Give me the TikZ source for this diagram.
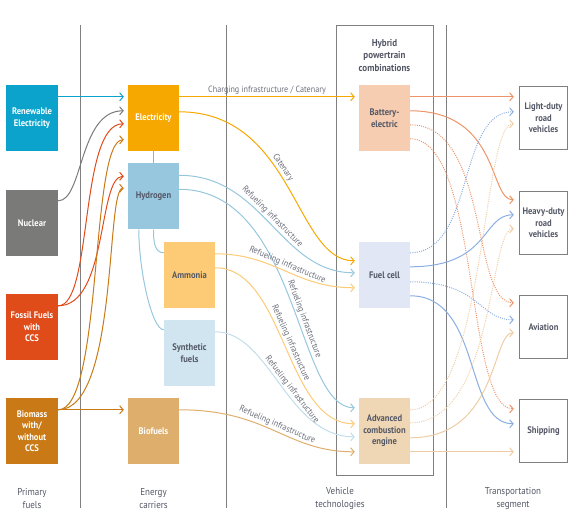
\documentclass[tikz,border=0pt]{standalone}
\usepackage{fontspec}
\setmainfont{PT Sans}[FakeStretch=0.9]
\usetikzlibrary{arrows.meta}

\definecolor{renew}{HTML}{0BA3CC}
\definecolor{nuclear}{HTML}{7A7A78}
\definecolor{fossil}{HTML}{E04B1A}
\definecolor{biomass}{HTML}{C97A16}
\definecolor{electric}{HTML}{F6A800}
\definecolor{hydrogen}{HTML}{96C7DF}
\definecolor{ammonia}{HTML}{FDCB76}
\definecolor{synfuel}{HTML}{D0E5EF}
\definecolor{biofuel}{HTML}{DEAE6D}
\definecolor{battery}{HTML}{F6CDB0}
\definecolor{fuelcell}{HTML}{E1E7F4}
\definecolor{combust}{HTML}{EFD6B4}
\definecolor{batline}{HTML}{EC9467}
\definecolor{fcline}{HTML}{8BAEE2}
\definecolor{aceline}{HTML}{EECDA4}
\definecolor{synline}{HTML}{C2DDEC}
\definecolor{darktext}{HTML}{545866}
\definecolor{labeltext}{HTML}{6A6E7A}
\definecolor{rule}{HTML}{7F7F7F}

\tikzset{
  tile/.style={minimum width=52pt, minimum height=66pt, inner sep=1pt, align=center,
    font=\fontsize{9.5}{11.5}\selectfont\bfseries, text=darktext},
  lighttile/.style={tile, text=white},
  segtile/.style={tile, minimum width=48pt, minimum height=63pt, draw=rule, line width=1.4pt, fill=white},
  flow/.style={line width=1pt, -{Straight Barb[length=3.5pt,width=8pt]}, out=0, in=180},
  flowlabel/.style={font=\fontsize{9}{10}\selectfont, text=labeltext, sloped, above, inner sep=1.5pt},
  dots/.style={dash pattern=on 1pt off 1.2pt},
  heading/.style={align=center, font=\fontsize{10}{13}\selectfont, text=darktext},
  divider/.style={draw=rule, line width=0.9pt}
}

\begin{document}
\begin{tikzpicture}[x=1pt,y=-1pt]
\useasboundingbox (0,0) rectangle (579,521);
\draw [divider] (80,25) -- (80,508);
\draw [divider] (226,25) -- (226,508);
\draw [divider] (446,25) -- (446,508);
\draw [divider] (336,25) rectangle (433,475);

% columns of boxes
\node [lighttile, fill=renew] (ren) at (32,118) {Renewable\\Electricity};
\node [lighttile, fill=nuclear] (nuc) at (32,223) {Nuclear};
\node [lighttile, fill=fossil] (fos) at (32,327) {Fossil Fuels\\with\\CCS};
\node [lighttile, fill=biomass] (bio) at (32,431) {Biomass\\with/\\without\\CCS};
\node [lighttile, fill=electric, minimum width=51pt] (elec) at (153.5,118) {Electricity};
\node [tile, fill=hydrogen, minimum width=51pt] (hyd) at (153.5,196.5) {Hydrogen};
\node [tile, fill=ammonia, minimum width=51pt] (amm) at (189.5,275) {Ammonia};
\node [tile, fill=synfuel, minimum width=51pt] (syn) at (189.5,353) {Synthetic\\fuels};
\node [lighttile, fill=biofuel, minimum width=51pt] (biof) at (153.5,431) {Biofuels};
\node [tile, fill=battery, minimum width=51pt] (bat) at (384.5,118) {Battery-\\electric};
\node [tile, fill=fuelcell, minimum width=51pt] (fc) at (384.5,275) {Fuel cell};
\node [tile, fill=combust, minimum width=51pt] (ace) at (384.5,431) {Advanced\\combustion\\engine};
\node [segtile] (ld) at (543.5,118) {Light-duty\\road\\vehicles};
\node [segtile] (hd) at (543.5,223) {Heavy-duty\\road\\vehicles};
\node [segtile] (av) at (543.5,327) {Aviation};
\node [segtile] (sh) at (543.5,431) {Shipping};

\node [heading, font=\fontsize{10}{12.5}\selectfont\bfseries] (hybrid) at (384.5,55.5) {Hybrid\\powertrain\\combinations};
\node [heading] (primary) at (32,498.5) {Primary\\fuels};
\node [heading] (carriers) at (153.5,498.5) {Energy\\carriers};
\node [heading] (vehtech) at (340,498.5) {Vehicle\\technologies};
\node [heading] (segment) at (513,498.5) {Transportation\\segment};

% primary fuels to carriers
\draw [flow, draw=renew] ([yshift=-12pt]ren.north east) -- ([xshift=-4pt,yshift=-12pt]elec.north west);
\draw [flow, draw=nuclear, out distance=25pt, in distance=45pt] ([yshift=-11pt]nuc.north east) to ([xshift=-4pt,yshift=-26pt]elec.north west);
\draw [flow, draw=fossil, out distance=35pt, in distance=45pt] ([yshift=-12pt]fos.north east) to ([xshift=-4pt,yshift=-39pt]elec.north west);
\draw [flow, draw=fossil, out distance=50pt, in distance=26pt] ([yshift=-12pt]fos.north east) to ([xshift=-4pt,yshift=-13pt]hyd.north west);
\draw [flow, draw=biomass, out distance=45pt, in distance=34pt] ([yshift=-12pt]bio.north east) to ([xshift=-4pt,yshift=-55pt]elec.north west);
\draw [flow, draw=biomass, out distance=60pt, in distance=18pt] ([yshift=-12pt]bio.north east) to ([xshift=-4pt,yshift=-25pt]hyd.north west);
\draw [flow, draw=biomass] ([yshift=-12pt]bio.north east) -- ([xshift=-4pt,yshift=-12pt]biof.north west);

% between carriers
\draw [draw=electric, line width=1pt] (elec.south) -- (hyd.north);
\draw [draw=hydrogen, line width=1pt, out=-90, in=180] (hyd.south) to ([yshift=-11pt]amm.north west);
\draw [draw=hydrogen, line width=1pt, out=-90, in=180, in distance=12pt] ([xshift=11pt]hyd.south west) to ([yshift=-10pt]syn.north west);

% carriers to vehicle technologies
\draw [flow, draw=electric] ([yshift=-12pt]elec.north east) -- node [flowlabel, pos=0.5] {Charging infrastructure / Catenary} ([xshift=-4pt,yshift=-12pt]bat.north west);
\draw [flow, draw=electric, out distance=115pt, in distance=60pt] ([yshift=-27pt]elec.north east) to node [flowlabel, pos=0.43] {Catenary} ([xshift=-4pt,yshift=-19pt]fc.north west);
\draw [flow, draw=hydrogen, out distance=85pt, in distance=75pt] ([yshift=-12pt]hyd.north east) to node [flowlabel, pos=0.48] {Refueling infrastructure} ([xshift=-4pt,yshift=-31pt]fc.north west);
\draw [flow, draw=hydrogen, out distance=120pt, in distance=59pt] ([yshift=-26pt]hyd.north east) to node [flowlabel, pos=0.57] {Refueling infrastructure} ([xshift=-4pt,yshift=-10pt]ace.north west);
\draw [flow, draw=ammonia, out distance=60pt, in distance=60pt] ([yshift=-12pt]amm.north east) to node [flowlabel, pos=0.5] {Refueling infrastructure} ([xshift=-4pt,yshift=-46pt]fc.north west);
\draw [flow, draw=ammonia, out distance=70pt, in distance=70pt] ([yshift=-26pt]amm.north east) to node [flowlabel, pos=0.5] {Refueling infrastructure} ([xshift=-4pt,yshift=-26pt]ace.north west);
\draw [flow, draw=synline, out distance=55pt, in distance=68pt] ([yshift=-12pt]syn.north east) to node [flowlabel, pos=0.56] {Refueling infrastructure} ([xshift=-4pt,yshift=-39pt]ace.north west);
\draw [flow, draw=biofuel, out distance=90pt, in distance=69pt] ([yshift=-12pt]biof.north east) to node [flowlabel, pos=0.5] {Refueling infrastructure} ([xshift=-4pt,yshift=-54pt]ace.north west);

% vehicle technologies to transportation segments
\draw [flow, draw=batline] ([yshift=-12pt]bat.north east) -- ([xshift=-5pt,yshift=-11pt]ld.north west);
\draw [flow, draw=batline, out distance=90pt, in distance=25pt] ([yshift=-26pt]bat.north east) to ([xshift=-5pt,yshift=-9pt]hd.north west);
\draw [flow, draw=batline, dots, out distance=80pt, in distance=43pt] ([yshift=-40pt]bat.north east) to ([xshift=-5pt,yshift=-8pt]av.north west);
\draw [flow, draw=batline, dots, out distance=70pt, in distance=49pt] ([yshift=-54pt]bat.north east) to ([xshift=-5pt,yshift=-10pt]sh.north west);
\draw [flow, draw=fcline, dots, out distance=65pt, in distance=57pt] ([yshift=-11pt]fc.north east) to ([xshift=-5pt,yshift=-26pt]ld.north west);
\draw [flow, draw=fcline, out distance=80pt, in distance=32pt] ([yshift=-25pt]fc.north east) to ([xshift=-5pt,yshift=-24pt]hd.north west);
\draw [flow, draw=fcline, dots, out distance=70pt, in distance=35pt] ([yshift=-40pt]fc.north east) to ([xshift=-5pt,yshift=-25pt]av.north west);
\draw [flow, draw=fcline, out distance=72pt, in distance=50pt] ([yshift=-54pt]fc.north east) to ([xshift=-5pt,yshift=-25pt]sh.north west);
\draw [flow, draw=aceline, dots, out distance=75pt, in distance=32pt] ([yshift=-12pt]ace.north east) to ([xshift=-5pt,yshift=-38pt]ld.north west);
\draw [flow, draw=aceline, dots, out distance=85pt, in distance=25pt] ([yshift=-25pt]ace.north east) to ([xshift=-5pt,yshift=-38pt]hd.north west);
\draw [flow, draw=aceline, out distance=88pt, in distance=22pt] ([yshift=-40pt]ace.north east) to ([xshift=-5pt,yshift=-38pt]av.north west);
\draw [flow, draw=aceline] ([yshift=-54pt]ace.north east) -- ([xshift=-5pt,yshift=-53pt]sh.north west);
\end{tikzpicture}
\end{document}
